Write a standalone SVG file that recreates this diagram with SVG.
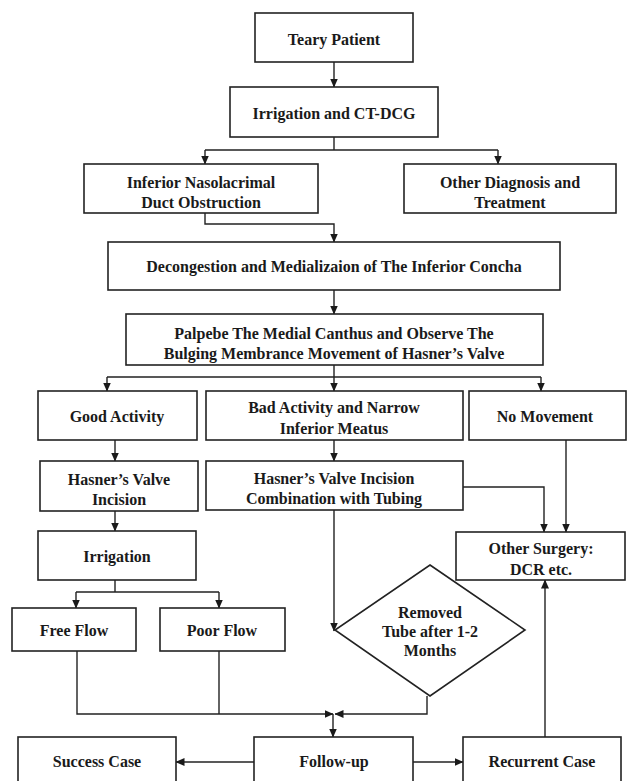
<svg xmlns="http://www.w3.org/2000/svg" width="627" height="781" viewBox="0 0 627 781">
<defs>
<marker id="ah" markerWidth="9" markerHeight="8" refX="8.5" refY="4" orient="auto" markerUnits="userSpaceOnUse">
<path d="M0,0 L9,4 L0,8 z" fill="#1a1a1a"/>
</marker>
<style>
.box{fill:#fff;stroke:#222;stroke-width:1.6}
.t{font-family:"Liberation Serif","Times New Roman",serif;font-weight:bold;font-size:16px;fill:#1a1a1a;text-anchor:middle}
.c{fill:none;stroke:#222;stroke-width:1.4}
.a{marker-end:url(#ah)}
</style>
</defs>
<rect width="627" height="781" fill="#fff"/>
<g id="connectors">
<path class="c a" d="M334,62 V87"/>
<path class="c" d="M334,137 V150 M205,150 H498"/>
<path class="c a" d="M205,150 V164"/>
<path class="c a" d="M498,150 V164"/>
<path class="c a" d="M205,213 V224 H334 V242"/>
<path class="c a" d="M334,290 V314"/>
<path class="c" d="M334,365 V377 M107,377 H541"/>
<path class="c a" d="M107,377 V391"/>
<path class="c a" d="M334,377 V391"/>
<path class="c a" d="M541,377 V391"/>
<path class="c a" d="M115,440 V461"/>
<path class="c a" d="M334,440 V461"/>
<path class="c a" d="M115,511 V531"/>
<path class="c" d="M115,580 V592 M76,592 H219"/>
<path class="c a" d="M76,592 V608"/>
<path class="c a" d="M219,592 V608"/>
<path class="c a" d="M463,487 H544 V532"/>
<path class="c a" d="M566,440 V532"/>
<path class="c a" d="M334,510 V631"/>
<path class="c a" d="M77,651 V714 H333"/>
<path class="c" d="M219,651 V714"/>
<path class="c a" d="M427,696 V714 H335"/>
<path class="c a" d="M333,714 V737"/>
<path class="c a" d="M254,762 H176"/>
<path class="c a" d="M413,762 H463"/>
<path class="c a" d="M545,737 V580"/>
</g>
<g id="n-teary"><rect class="box" x="255" y="13" width="158" height="49"/><text class="t" x="334" y="45">Teary Patient</text></g>
<g id="n-irrig-ct"><rect class="box" x="230" y="87" width="208" height="50"/><text class="t" x="334" y="119">Irrigation and CT-DCG</text></g>
<g id="n-inferior"><rect class="box" x="84" y="164" width="234" height="49"/><text class="t" x="201" y="188">Inferior Nasolacrimal</text><text class="t" x="201" y="208">Duct Obstruction</text></g>
<g id="n-other-diag"><rect class="box" x="404" y="164" width="212" height="49"/><text class="t" x="510" y="188">Other Diagnosis and</text><text class="t" x="510" y="208">Treatment</text></g>
<g id="n-decong"><rect class="box" x="108" y="242" width="452" height="48"/><text class="t" x="334" y="272">Decongestion and Medializaion of The Inferior Concha</text></g>
<g id="n-palpebe"><rect class="box" x="126" y="314" width="417" height="51"/><text class="t" x="334" y="339">Palpebe The Medial Canthus and Observe The</text><text class="t" x="334" y="359">Bulging Membrance Movement of Hasner’s Valve</text></g>
<g id="n-good"><rect class="box" x="38" y="391" width="159" height="49"/><text class="t" x="117" y="422">Good Activity</text></g>
<g id="n-bad"><rect class="box" x="206" y="391" width="257" height="49"/><text class="t" x="334" y="413">Bad Activity and Narrow</text><text class="t" x="334" y="434">Inferior Meatus</text></g>
<g id="n-nomove"><rect class="box" x="469" y="391" width="157" height="49"/><text class="t" x="545" y="422">No Movement</text></g>
<g id="n-hasner"><rect class="box" x="40" y="461" width="158" height="50"/><text class="t" x="119" y="485">Hasner’s Valve</text><text class="t" x="119" y="505">Incision</text></g>
<g id="n-hasner-tube"><rect class="box" x="206" y="461" width="257" height="49"/><text class="t" x="334" y="484">Hasner’s Valve Incision</text><text class="t" x="334" y="504">Combination with Tubing</text></g>
<g id="n-irrigation"><rect class="box" x="38" y="531" width="158" height="49"/><text class="t" x="117" y="562">Irrigation</text></g>
<g id="n-other-surgery"><rect class="box" x="456" y="532" width="169" height="48"/><text class="t" x="541" y="554">Other Surgery:</text><text class="t" x="541" y="575">DCR etc.</text></g>
<g id="n-free"><rect class="box" x="12" y="608" width="124" height="43"/><text class="t" x="74" y="636">Free Flow</text></g>
<g id="n-poor"><rect class="box" x="160" y="608" width="125" height="43"/><text class="t" x="222" y="636">Poor Flow</text></g>
<g id="n-removed"><polygon class="box" points="430,565 525,630 430,696 335,630"/><text class="t" x="430" y="618">Removed</text><text class="t" x="430" y="637">Tube after 1-2</text><text class="t" x="430" y="656">Months</text></g>
<g id="n-success"><rect class="box" x="18" y="737" width="158" height="55"/><text class="t" x="97" y="767">Success Case</text></g>
<g id="n-followup"><rect class="box" x="254" y="737" width="159" height="55"/><text class="t" x="334" y="767">Follow-up</text></g>
<g id="n-recurrent"><rect class="box" x="463" y="737" width="158" height="55"/><text class="t" x="542" y="767">Recurrent Case</text></g>
</svg>
